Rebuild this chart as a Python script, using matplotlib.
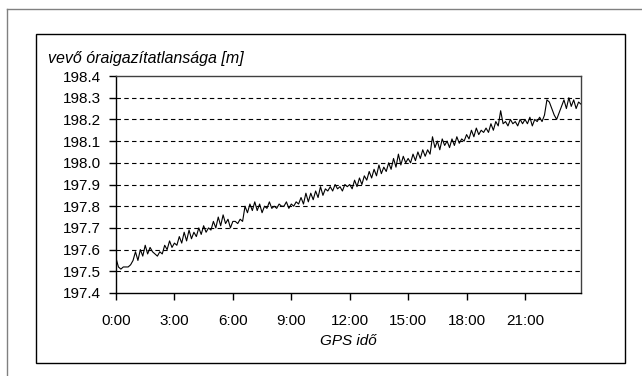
import numpy as np
import matplotlib.pyplot as plt
from matplotlib.lines import Line2D
from matplotlib.patches import Rectangle

plt.rcParams['font.family'] = ['Liberation Sans', 'DejaVu Sans']

# clock bias values, 8 samples per hour (7.5 min step)
bias = [
    197.56, 197.52, 197.51, 197.52, 197.52, 197.52, 197.53, 197.55,
    197.59, 197.55, 197.60, 197.57, 197.62, 197.58, 197.61, 197.59,
    197.58, 197.57, 197.59, 197.58, 197.62, 197.60, 197.64, 197.61,
    197.63, 197.62, 197.66, 197.63, 197.68, 197.64, 197.69, 197.65,
    197.68, 197.66, 197.70, 197.67, 197.71, 197.68, 197.70, 197.69,
    197.73, 197.70, 197.75, 197.71, 197.76, 197.72, 197.74, 197.70,
    197.73, 197.73, 197.72, 197.74, 197.73, 197.80, 197.77, 197.81,
    197.78, 197.82, 197.78, 197.81, 197.77, 197.80, 197.79, 197.82,
    197.79, 197.80, 197.79, 197.81, 197.80, 197.80, 197.82, 197.79,
    197.81, 197.80, 197.82, 197.81, 197.84, 197.81, 197.86, 197.82,
    197.86, 197.83, 197.87, 197.84, 197.89, 197.85, 197.88, 197.87,
    197.89, 197.87, 197.90, 197.88, 197.89, 197.87, 197.90, 197.89,
    197.90, 197.88, 197.92, 197.89, 197.93, 197.90, 197.94, 197.92,
    197.96, 197.93, 197.97, 197.94, 197.99, 197.95, 197.98, 197.96,
    198.00, 197.97, 198.02, 197.98, 198.04, 197.99, 198.03, 198.00,
    198.02, 198.00, 198.04, 198.01, 198.05, 198.02, 198.06, 198.03,
    198.06, 198.04, 198.12, 198.07, 198.10, 198.06, 198.11, 198.08,
    198.10, 198.07, 198.11, 198.08, 198.12, 198.09, 198.11, 198.10,
    198.13, 198.11, 198.15, 198.12, 198.16, 198.13, 198.15, 198.14,
    198.16, 198.14, 198.18, 198.15, 198.19, 198.17, 198.24, 198.18,
    198.19, 198.17, 198.20, 198.18, 198.19, 198.17, 198.20, 198.18,
    198.20, 198.18, 198.21, 198.17, 198.20, 198.19, 198.21, 198.19,
    198.22, 198.29, 198.28, 198.25, 198.22, 198.20, 198.23, 198.26,
    198.29, 198.25, 198.30, 198.26, 198.29, 198.25, 198.28, 198.27,
]
step_h = 7.5 / 60
hours = np.arange(len(bias)) * step_h

x_ticks = [0, 3, 6, 9, 12, 15, 18, 21]
x_labels = ['0:00', '3:00', '6:00', '9:00', '12:00', '15:00', '18:00', '21:00']
y_ticks = [197.4, 197.5, 197.6, 197.7, 197.8, 197.9, 198.0, 198.1, 198.2, 198.3, 198.4]

fig = plt.figure(figsize=(6.42, 3.76), dpi=100)
ax = fig.add_axes([116 / 642, 1 - 293 / 376, 465 / 642, 217 / 376])

ax.plot(hours, bias, color='black', lw=0.8)
ax.set_xlim(0, hours[-1])
ax.set_ylim(197.4, 198.4)
ax.set_xticks(x_ticks)
ax.set_xticklabels(x_labels)
ax.set_yticks(y_ticks)
ax.set_yticklabels([f'{v:.1f}' for v in y_ticks])

for v in y_ticks[1:-1]:
    ax.axhline(v, color='black', lw=0.8, dashes=(4, 3), zorder=0)

ax.tick_params(direction='out', length=5, width=1, labelsize=11, colors='black', pad=6)
ax.tick_params(axis='x', pad=10)
for s in ax.spines.values():
    s.set_color('#404040')
    s.set_linewidth(1)
ax.spines['left'].set_color('black')
ax.spines['bottom'].set_color('black')

fig.text(48 / 642, 1 - 58 / 376, 'vevő óraigazítatlansága [m]', style='italic',
         fontsize=11.5, ha='left', va='center')
fig.text(348 / 642, 1 - 341 / 376, 'GPS idő', style='italic',
         fontsize=11, ha='center', va='center')

# inner black frame and outer grey frame
fig.add_artist(Rectangle((36 / 642, 1 - 363 / 376), 589 / 642, 329 / 376,
                         transform=fig.transFigure, fill=False, ec='black', lw=1))
fig.add_artist(Line2D([7 / 642, 1], [1 - 9 / 376, 1 - 9 / 376],
                      transform=fig.transFigure, color='#808080', lw=1))
fig.add_artist(Line2D([7 / 642, 7 / 642], [0, 1 - 9 / 376],
                      transform=fig.transFigure, color='#808080', lw=1))

fig.savefig('out.png', dpi=100)
